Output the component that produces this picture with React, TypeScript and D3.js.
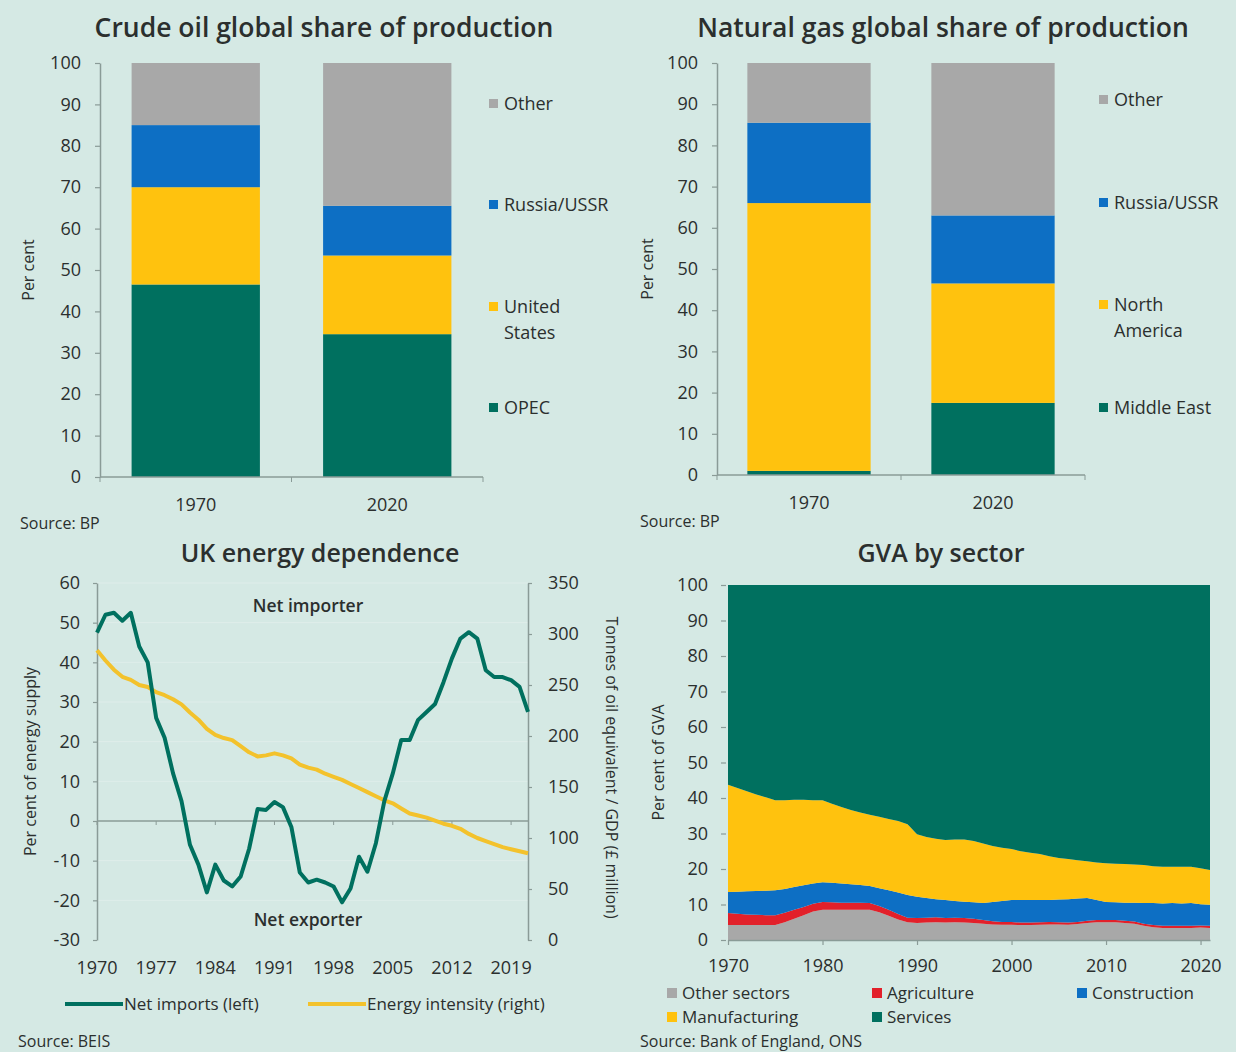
import { useEffect, useRef } from "react"
import * as d3 from "d3"

// Stacked bar panels (share of global production, per cent)
const barYears = ["1970", "2020"]

const oilNames = ["OPEC", "United States", "Russia/USSR", "Other"]
const oilOpec = [46.5, 34.5]
const oilUS = [23.5, 19]
const oilRussia = [15, 12]
const oilOther = [15, 34.5]

const gasNames = ["Middle East", "North America", "Russia/USSR", "Other"]
const gasMiddleEast = [1, 17.5]
const gasNorthAmerica = [65, 29]
const gasRussia = [19.5, 16.5]
const gasOther = [14.5, 37]

// UK energy dependence, annual 1970-2021
const energyYears = d3.range(1970, 2022)
const netImports = [
  47.5, 52, 52.5, 50.5, 52.5, 44, 40, 26, 21, 12,
  5, -6, -11, -18, -11, -15, -16.5, -14, -7, 3,
  2.8, 4.8, 3.5, -1.5, -13, -15.5, -14.8, -15.5, -16.5, -20.5,
  -17, -9, -12.8, -5.6, 5, 12, 20.4, 20.4, 25.5, 27.5,
  29.5, 35, 41, 46, 47.6, 46, 38, 36.3, 36.3, 35.5,
  33.8, 27.5,
]
const energyIntensity = [
  284, 274, 265, 258, 255, 250, 248, 243, 240, 236,
  231, 223, 216, 207, 201, 198, 196, 190, 184, 180,
  181, 183, 181, 178, 172, 169, 167, 163, 160, 157,
  153, 149, 145, 141, 137, 134, 129, 124, 122, 120,
  117, 114, 112, 109, 104, 100, 97, 94, 91, 89,
  87, 85,
]
const energyTickYears = [1970, 1977, 1984, 1991, 1998, 2005, 2012, 2019]

// GVA by sector, per cent of GVA, annual 1970-2021
const gvaYears = d3.range(1970, 2022)
const gvaOther = [
  4.2, 4.2, 4.2, 4.2, 4.2, 4.2, 5.0, 6.0, 7.0, 8.0,
  8.5, 8.5, 8.5, 8.5, 8.5, 8.5, 7.8, 6.8, 5.8, 5.0,
  4.8, 4.9, 5.0, 4.9, 5.0, 4.9, 4.8, 4.6, 4.4, 4.3,
  4.3, 4.2, 4.2, 4.3, 4.4, 4.4, 4.3, 4.5, 4.8, 5.0,
  5.0, 5.0, 4.8, 4.6, 4.0, 3.6, 3.4, 3.4, 3.4, 3.4,
  3.5, 3.4,
]
const gvaAgriculture = [
  3.4, 3.2, 3.0, 2.9, 2.8, 2.8, 2.7, 2.5, 2.3, 2.2,
  2.2, 2.1, 2.0, 2.0, 2.0, 1.9, 1.8, 1.7, 1.5, 1.3,
  1.4, 1.4, 1.4, 1.3, 1.3, 1.3, 1.2, 1.0, 0.9, 0.8,
  0.8, 0.7, 0.7, 0.7, 0.7, 0.6, 0.6, 0.6, 0.6, 0.6,
  0.6, 0.6, 0.6, 0.6, 0.6, 0.6, 0.6, 0.6, 0.6, 0.6,
  0.6, 0.6,
]
const gvaConstruction = [
  5.9, 6.2, 6.5, 6.7, 6.9, 7.0, 6.7, 6.4, 6.1, 5.7,
  5.6, 5.5, 5.4, 5.2, 5.0, 4.8, 5.0, 5.5, 6.1, 6.4,
  6.0, 5.5, 5.1, 5.1, 4.7, 4.6, 4.6, 4.8, 5.4, 5.9,
  6.2, 6.4, 6.4, 6.3, 6.2, 6.4, 6.6, 6.6, 6.4, 5.7,
  5.1, 5.0, 5.1, 5.3, 5.8, 6.2, 6.3, 6.4, 6.3, 6.4,
  6.0, 5.9,
]
const gvaManufacturing = [
  30.2, 29.2, 28.2, 27.2, 26.3, 25.4, 25.0, 24.6, 24.1, 23.5,
  23.1, 22.3, 21.6, 20.9, 20.4, 20.1, 20.1, 20.1, 20.1, 19.9,
  17.6, 17.2, 17.0, 16.9, 17.3, 17.5, 17.3, 16.8, 15.8, 15.0,
  14.3, 13.7, 13.3, 12.9, 12.3, 11.7, 11.3, 10.8, 10.4, 10.5,
  10.9, 10.9, 10.9, 10.8, 10.7, 10.4, 10.3, 10.2, 10.3, 10.2,
  10.1, 9.8,
]
const gvaServices = [
  56.3, 57.2, 58.1, 59.0, 59.8, 60.6, 60.6, 60.5, 60.5, 60.6,
  60.6, 61.6, 62.5, 63.4, 64.1, 64.7, 65.3, 65.9, 66.5, 67.4,
  70.2, 71.0, 71.5, 71.8, 71.7, 71.7, 72.1, 72.8, 73.5, 74.0,
  74.4, 75.0, 75.4, 75.8, 76.4, 76.9, 77.2, 77.5, 77.8, 78.2,
  78.4, 78.5, 78.6, 78.7, 78.9, 79.2, 79.4, 79.4, 79.4, 79.4,
  79.8, 80.3,
]
const gvaNames = ["Other sectors", "Agriculture", "Construction", "Manufacturing", "Services"]
const gvaTickYears = [1970, 1980, 1990, 2000, 2010, 2020]

const BG = "#d5e9e4"
const GREEN = "#00705f"
const YELLOW = "#ffc20e"
const BLUE = "#0d6fc4"
const GRAY = "#a8a8a8"
const RED = "#e2202a"
const INK = "#2b2f2e"
const AXIS = "#8a9b97"
const FONT = "'Open Sans', Lato, sans-serif"

type Sel = d3.Selection<SVGSVGElement, unknown, null, undefined>

function styleAxis(g: d3.Selection<SVGGElement, unknown, null, undefined>) {
  g.select(".domain").attr("stroke", AXIS).attr("stroke-width", 1.5)
  g.selectAll(".tick line").attr("stroke", AXIS).attr("stroke-width", 1.2)
  g.selectAll(".tick text")
    .attr("fill", INK)
    .attr("font-size", 18)
    .attr("font-family", FONT)
}

function drawBarPanel(
  svg: Sel,
  cfg: {
    left: number
    right: number
    top: number
    bottom: number
    title: string
    titleX: number
    titleSize: number
    names: string[]
    columns: number[][]
    legend: string[][]
    legendYs: number[]
    legendX: number
    labelX: number
    sourceX: number
  }
) {
  const colors = [GREEN, YELLOW, BLUE, GRAY]
  const x = d3.scaleBand<string>().domain(barYears).range([cfg.left, cfg.right]).paddingInner(0.33).paddingOuter(0.165)
  const y = d3.scaleLinear().domain([0, 100]).range([cfg.bottom, cfg.top])

  const rows = barYears.map((yr, i) => {
    const r: Record<string, number | string> = { year: yr }
    cfg.names.forEach((n, j) => (r[n] = cfg.columns[j][i]))
    return r
  })
  const stacked = d3.stack<Record<string, number | string>>().keys(cfg.names)(rows as any)

  // bars
  stacked.forEach((layer, j) => {
    svg
      .append("g")
      .selectAll("rect")
      .data(layer)
      .enter()
      .append("rect")
      .attr("x", (d) => x(d.data.year as string)!)
      .attr("width", x.bandwidth())
      .attr("y", (d) => y(d[1]))
      .attr("height", (d) => y(d[0]) - y(d[1]))
      .attr("fill", colors[j])
  })

  // y axis
  const ya = svg
    .append("g")
    .attr("transform", `translate(${cfg.left},0)`)
    .call(d3.axisLeft(y).tickValues(d3.range(0, 101, 10)).tickSize(5).tickPadding(14).tickSizeOuter(0))
  styleAxis(ya)

  // x axis: line, boundary ticks, centred labels
  svg
    .append("line")
    .attr("x1", cfg.left)
    .attr("x2", cfg.right)
    .attr("y1", cfg.bottom)
    .attr("y2", cfg.bottom)
    .attr("stroke", AXIS)
    .attr("stroke-width", 1.5)
  const bounds = [cfg.left, ...barYears.map((d) => x(d)! + x.bandwidth() + (x.step() - x.bandwidth()) / 2)]
  svg
    .selectAll(null)
    .data(bounds)
    .enter()
    .append("line")
    .attr("x1", (d) => d)
    .attr("x2", (d) => d)
    .attr("y1", cfg.bottom)
    .attr("y2", cfg.bottom + 5)
    .attr("stroke", AXIS)
  svg
    .selectAll(null)
    .data(barYears)
    .enter()
    .append("text")
    .attr("x", (d) => x(d)! + x.bandwidth() / 2)
    .attr("y", cfg.bottom + 34)
    .attr("text-anchor", "middle")
    .attr("font-size", 18)
    .attr("font-family", FONT)
    .attr("fill", INK)
    .text((d) => d)

  // title
  svg
    .append("text")
    .attr("x", cfg.titleX)
    .attr("y", cfg.top - 26)
    .attr("text-anchor", "middle")
    .attr("font-size", cfg.titleSize)
    .attr("font-weight", 600)
    .attr("font-family", FONT)
    .attr("fill", INK)
    .text(cfg.title)

  // y label
  svg
    .append("text")
    .attr("transform", `translate(${cfg.labelX},${(cfg.top + cfg.bottom) / 2}) rotate(-90)`)
    .attr("text-anchor", "middle")
    .attr("font-size", 16)
    .attr("font-family", FONT)
    .attr("fill", INK)
    .text("Per cent")

  // legend
  cfg.legend.forEach((lines, j) => {
    const cy = cfg.legendYs[j]
    const firstY = cy - ((lines.length - 1) * 26) / 2
    svg
      .append("rect")
      .attr("x", cfg.legendX)
      .attr("y", firstY - 5)
      .attr("width", 9)
      .attr("height", 9)
      .attr("fill", colors[j])
    const t = svg
      .append("text")
      .attr("font-size", 18)
      .attr("font-family", FONT)
      .attr("fill", INK)
    lines.forEach((ln, k) => {
      t.append("tspan")
        .attr("x", cfg.legendX + 15)
        .attr("y", firstY + k * 26 + 6)
        .text(ln)
    })
  })

  svg
    .append("text")
    .attr("x", cfg.sourceX)
    .attr("y", cfg.bottom + 52)
    .attr("font-size", 16)
    .attr("font-family", FONT)
    .attr("fill", INK)
    .text("Source: BP")
}

function drawEnergy(svg: Sel) {
  const left = 97
  const right = 528
  const top = 583
  const bottom = 940
  const x = d3.scaleLinear().domain([1970, 2021]).range([left, right])
  const yL = d3.scaleLinear().domain([-30, 60]).range([bottom, top])
  const yR = d3.scaleLinear().domain([0, 350]).range([bottom, top])

  // faint gridlines
  svg
    .append("g")
    .selectAll("line")
    .data(d3.range(-20, 61, 10))
    .enter()
    .append("line")
    .attr("x1", left)
    .attr("x2", right)
    .attr("y1", (d) => yL(d))
    .attr("y2", (d) => yL(d))
    .attr("stroke", "#ffffff")
    .attr("stroke-opacity", (d) => (d === 0 ? 0 : 0.25))

  // zero line
  svg
    .append("line")
    .attr("x1", left)
    .attr("x2", right)
    .attr("y1", yL(0))
    .attr("y2", yL(0))
    .attr("stroke", AXIS)
    .attr("stroke-width", 1.5)
  svg
    .append("g")
    .selectAll("line")
    .data(energyTickYears)
    .enter()
    .append("line")
    .attr("x1", (d) => x(d))
    .attr("x2", (d) => x(d))
    .attr("y1", yL(0))
    .attr("y2", yL(0) + 4)
    .attr("stroke", AXIS)

  const la = svg
    .append("g")
    .attr("transform", `translate(${left},0)`)
    .call(
      d3
        .axisLeft(yL)
        .tickValues(d3.range(-30, 61, 10))
        .tickFormat((d) => String(d))
        .tickSize(4)
        .tickPadding(13)
        .tickSizeOuter(0)
    )
  styleAxis(la)
  const ra = svg
    .append("g")
    .attr("transform", `translate(${right},0)`)
    .call(d3.axisRight(yR).tickValues(d3.range(0, 351, 50)).tickSize(4).tickPadding(16).tickSizeOuter(0))
  styleAxis(ra)

  // year labels
  svg
    .append("g")
    .selectAll("text")
    .data(energyTickYears)
    .enter()
    .append("text")
    .attr("x", (d) => x(d))
    .attr("y", bottom + 34)
    .attr("text-anchor", "middle")
    .attr("font-size", 18)
    .attr("font-family", FONT)
    .attr("fill", INK)
    .text((d) => String(d))

  const lineL = d3
    .line<number>()
    .x((_, i) => x(energyYears[i]))
    .y((d) => yL(d))
  const lineR = d3
    .line<number>()
    .x((_, i) => x(energyYears[i]))
    .y((d) => yR(d))

  svg
    .append("path")
    .datum(energyIntensity)
    .attr("d", lineR)
    .attr("fill", "none")
    .attr("stroke", "#f3c22c")
    .attr("stroke-width", 4)
    .attr("stroke-linejoin", "round")
  svg
    .append("path")
    .datum(netImports)
    .attr("d", lineL)
    .attr("fill", "none")
    .attr("stroke", GREEN)
    .attr("stroke-width", 4)
    .attr("stroke-linejoin", "round")

  const note = (txt: string, yy: number) =>
    svg
      .append("text")
      .attr("x", 308)
      .attr("y", yy)
      .attr("text-anchor", "middle")
      .attr("font-size", 17.5)
      .attr("font-weight", 600)
      .attr("font-family", FONT)
      .attr("fill", INK)
      .text(txt)
  note("Net importer", 612)
  note("Net exporter", 926)

  svg
    .append("text")
    .attr("x", 320)
    .attr("y", 562)
    .attr("text-anchor", "middle")
    .attr("font-size", 25)
    .attr("font-weight", 600)
    .attr("font-family", FONT)
    .attr("fill", INK)
    .text("UK energy dependence")

  svg
    .append("text")
    .attr("transform", `translate(36,${(top + bottom) / 2}) rotate(-90)`)
    .attr("text-anchor", "middle")
    .attr("font-size", 16)
    .attr("font-family", FONT)
    .attr("fill", INK)
    .text("Per cent of energy supply")
  svg
    .append("text")
    .attr("transform", `translate(606,${(top + bottom) / 2 + 6}) rotate(90)`)
    .attr("text-anchor", "middle")
    .attr("font-size", 16)
    .attr("font-family", FONT)
    .attr("fill", INK)
    .text("Tonnes of oil equivalent / GDP (£ million)")

  // legend
  const leg = [
    { label: "Net imports (left)", color: GREEN, x1: 65, x2: 123 },
    { label: "Energy intensity (right)", color: "#f3c22c", x1: 308, x2: 366 },
  ]
  leg.forEach((l) => {
    svg
      .append("line")
      .attr("x1", l.x1)
      .attr("x2", l.x2)
      .attr("y1", 1004)
      .attr("y2", 1004)
      .attr("stroke", l.color)
      .attr("stroke-width", 4)
    svg
      .append("text")
      .attr("x", l.x2 + 1)
      .attr("y", 1010)
      .attr("font-size", 17)
      .attr("font-family", FONT)
      .attr("fill", INK)
      .text(l.label)
  })

  svg
    .append("text")
    .attr("x", 18)
    .attr("y", 1047)
    .attr("font-size", 16)
    .attr("font-family", FONT)
    .attr("fill", INK)
    .text("Source: BEIS")
}

function drawGva(svg: Sel) {
  const left = 728
  const right = 1210
  const top = 585
  const bottom = 940
  const colors = [GRAY, RED, BLUE, YELLOW, GREEN]
  const x = d3.scaleLinear().domain([1970, 2021]).range([left, right])
  const y = d3.scaleLinear().domain([0, 100]).range([bottom, top])

  const cols = [gvaOther, gvaAgriculture, gvaConstruction, gvaManufacturing, gvaServices]
  const rows = gvaYears.map((yr, i) => {
    const r: Record<string, number> = { year: yr }
    gvaNames.forEach((n, j) => (r[n] = cols[j][i]))
    return r
  })
  const stacked = d3.stack<Record<string, number>>().keys(gvaNames)(rows)
  const area = d3
    .area<d3.SeriesPoint<Record<string, number>>>()
    .x((d) => x(d.data.year))
    .y0((d) => y(d[0]))
    .y1((d) => y(d[1]))

  svg
    .append("g")
    .selectAll("path")
    .data(stacked)
    .enter()
    .append("path")
    .attr("d", area)
    .attr("fill", (_, j) => colors[j])

  const ya = svg
    .append("g")
    .attr("transform", `translate(${left - 2},0)`)
    .call(d3.axisLeft(y).tickValues(d3.range(0, 101, 10)).tickSize(5).tickPadding(13).tickSizeOuter(0))
  styleAxis(ya)
  ya.select(".domain").remove()

  const xa = svg
    .append("g")
    .attr("transform", `translate(0,${bottom})`)
    .call(d3.axisBottom(x).tickValues(gvaTickYears).tickFormat(d3.format("d")).tickSize(5).tickPadding(14).tickSizeOuter(0))
  styleAxis(xa)

  svg
    .append("text")
    .attr("x", 941)
    .attr("y", 562)
    .attr("text-anchor", "middle")
    .attr("font-size", 25)
    .attr("font-weight", 600)
    .attr("font-family", FONT)
    .attr("fill", INK)
    .text("GVA by sector")

  svg
    .append("text")
    .attr("transform", `translate(664,${(top + bottom) / 2}) rotate(-90)`)
    .attr("text-anchor", "middle")
    .attr("font-size", 16)
    .attr("font-family", FONT)
    .attr("fill", INK)
    .text("Per cent of GVA")

  const legendPos = [
    [667, 993],
    [872, 993],
    [1077, 993],
    [667, 1017],
    [872, 1017],
  ]
  gvaNames.forEach((n, j) => {
    const [lx, ly] = legendPos[j]
    svg
      .append("rect")
      .attr("x", lx)
      .attr("y", ly - 5)
      .attr("width", 10)
      .attr("height", 10)
      .attr("fill", colors[j])
    svg
      .append("text")
      .attr("x", lx + 15)
      .attr("y", ly + 6)
      .attr("font-size", 17)
      .attr("font-family", FONT)
      .attr("fill", INK)
      .text(n)
  })

  svg
    .append("text")
    .attr("x", 640)
    .attr("y", 1047)
    .attr("font-size", 16)
    .attr("font-family", FONT)
    .attr("fill", INK)
    .text("Source: Bank of England, ONS")
}

export default function App() {
  const svgRef = useRef<SVGSVGElement>(null)

  useEffect(() => {
    if (!svgRef.current) return
    const svg = d3.select(svgRef.current)
    svg.selectAll("*").remove()

    svg.append("rect").attr("width", 1236).attr("height", 1052).attr("fill", BG)

    drawBarPanel(svg, {
      left: 100,
      right: 483,
      top: 63,
      bottom: 477,
      title: "Crude oil global share of production",
      titleX: 324,
      titleSize: 26.5,
      names: oilNames,
      columns: [oilOpec, oilUS, oilRussia, oilOther],
      legend: [["OPEC"], ["United", "States"], ["Russia/USSR"], ["Other"]],
      legendYs: [408, 320, 205, 104],
      legendX: 489,
      labelX: 34,
      sourceX: 20,
    })

    drawBarPanel(svg, {
      left: 717,
      right: 1085,
      top: 63,
      bottom: 475,
      title: "Natural gas global share of production",
      titleX: 943,
      titleSize: 26.5,
      names: gasNames,
      columns: [gasMiddleEast, gasNorthAmerica, gasRussia, gasOther],
      legend: [["Middle East"], ["North", "America"], ["Russia/USSR"], ["Other"]],
      legendYs: [408, 318, 203, 100],
      legendX: 1099,
      labelX: 653,
      sourceX: 640,
    })

    drawEnergy(svg)
    drawGva(svg)
  }, [])

  return (
    <div style={{ position: "absolute", left: 0, top: 0 }}>
      <svg ref={svgRef} width={1236} height={1052} style={{ display: "block" }} />
    </div>
  )
}
